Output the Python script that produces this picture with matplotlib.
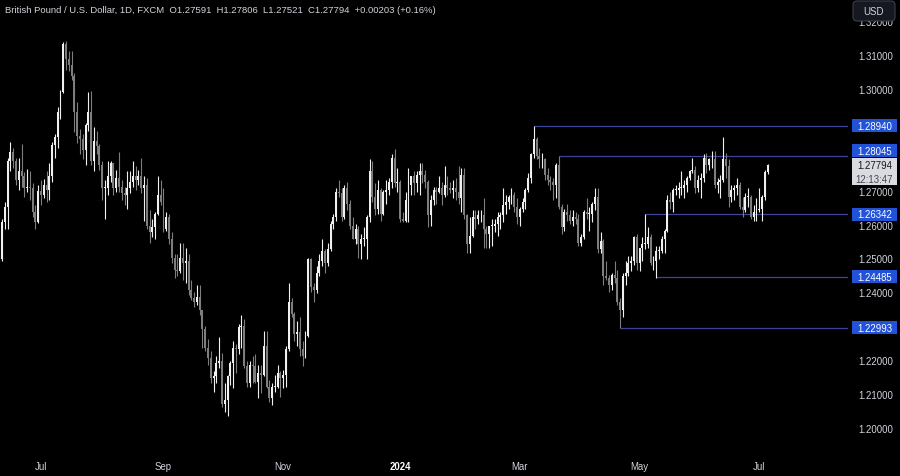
import numpy as np
import pandas as pd
import matplotlib
matplotlib.use("Agg")
import matplotlib.pyplot as plt
from matplotlib.patches import Rectangle, FancyBboxPatch
from matplotlib.transforms import IdentityTransform

# GBP/USD daily, FXCM, 12 Jun 2023 .. 4 Jul 2024
first_open = 1.2575
closes = [
    # Jun 2023
    1.2500, 1.2610, 1.2655, 1.2790, 1.2818, 1.2792, 1.2735, 1.2762, 1.2745, 1.2712, 1.2715, 1.2710, 1.2640, 1.2612, 1.2703,
    # Jul
    1.2690, 1.2720, 1.2705, 1.2746, 1.2838, 1.2860, 1.2935, 1.2995, 1.3135, 1.3090, 1.3075, 1.3040, 1.2935, 1.2865, 1.2855,
    1.2822, 1.2897, 1.2935, 1.2790, 1.2850, 1.2835,
    # Aug
    1.2780, 1.2710, 1.2710, 1.2745, 1.2785, 1.2710, 1.2740, 1.2715, 1.2695, 1.2690, 1.2710, 1.2730, 1.2745, 1.2735, 1.2745,
    1.2710, 1.2720, 1.2600, 1.2580, 1.2595, 1.2635, 1.2690, 1.2670,
    # Sep
    1.2590, 1.2625, 1.2560, 1.2505, 1.2470, 1.2465, 1.2505, 1.2490, 1.2495, 1.2410, 1.2385, 1.2375, 1.2390, 1.2350, 1.2295,
    1.2240, 1.2210, 1.2150, 1.2155, 1.2195, 1.2200,
    # Oct
    1.2075, 1.2085, 1.2155, 1.2195, 1.2240, 1.2235, 1.2300, 1.2305, 1.2185, 1.2135, 1.2190, 1.2185, 1.2140, 1.2165, 1.2160,
    1.2245, 1.2125, 1.2090, 1.2125, 1.2125, 1.2165, 1.2150,
    # Nov
    1.2160, 1.2235, 1.2375, 1.2340, 1.2280, 1.2285, 1.2235, 1.2215, 1.2275, 1.2500, 1.2420, 1.2410, 1.2460, 1.2495, 1.2525,
    1.2490, 1.2530, 1.2605, 1.2625, 1.2700, 1.2695, 1.2625,
    # Dec
    1.2710, 1.2665, 1.2600, 1.2560, 1.2590, 1.2545, 1.2560, 1.2560, 1.2625, 1.2760, 1.2685, 1.2650, 1.2705, 1.2635, 1.2700,
    1.2705, 1.2730, 1.2800, 1.2725, 1.2730,
    # Jan 2024
    1.2620, 1.2615, 1.2675, 1.2720, 1.2745, 1.2725, 1.2750, 1.2760, 1.2750, 1.2730, 1.2630, 1.2675, 1.2705, 1.2700, 1.2710,
    1.2690, 1.2720, 1.2710, 1.2705, 1.2710, 1.2700, 1.2680,
    # Feb
    1.2750, 1.2630, 1.2545, 1.2570, 1.2625, 1.2620, 1.2630, 1.2630, 1.2590, 1.2575, 1.2600, 1.2600, 1.2605, 1.2625, 1.2630,
    1.2660, 1.2670, 1.2685, 1.2690, 1.2655, 1.2625,
    # Mar
    1.2650, 1.2670, 1.2705, 1.2740, 1.2810, 1.2855, 1.2805, 1.2795, 1.2795, 1.2750, 1.2735, 1.2730, 1.2720, 1.2780, 1.2655,
    1.2595, 1.2640, 1.2630, 1.2615, 1.2625, 1.2620,
    # Apr
    1.2550, 1.2565, 1.2640, 1.2635, 1.2635, 1.2665, 1.2685, 1.2530, 1.2555, 1.2450, 1.2445, 1.2425, 1.2455, 1.2445, 1.2375,
    1.2350, 1.2450, 1.2460, 1.2490, 1.2495, 1.2565, 1.2490,
    # May
    1.2535, 1.2545, 1.2545, 1.2565, 1.2490, 1.2495, 1.2525, 1.2525, 1.2560, 1.2585, 1.2675, 1.2670, 1.2705, 1.2705, 1.2710,
    1.2710, 1.2720, 1.2740, 1.2760, 1.2765, 1.2710, 1.2735, 1.2740,
    # Jun
    1.2800, 1.2780, 1.2795, 1.2795, 1.2720, 1.2730, 1.2735, 1.2795, 1.2775, 1.2685, 1.2705, 1.2710, 1.2720, 1.2655, 1.2645,
    1.2685, 1.2685, 1.2625, 1.2640, 1.2645,
    # Jul
    1.2650, 1.2685, 1.27591, 1.27794,
]
highs = [
    1.2590, 1.2620, 1.2670, 1.2800, 1.2848, 1.2830, 1.2800, 1.2800, 1.2842, 1.2757, 1.2767, 1.2760, 1.2725, 1.2660, 1.2720,
    1.2734, 1.2737, 1.2760, 1.2785, 1.2848, 1.2870, 1.2950, 1.3000, 1.3142, 1.3144, 1.3115, 1.3115, 1.3050, 1.2965, 1.2885,
    1.2870, 1.2904, 1.2995, 1.2996, 1.2890, 1.2880,
    1.2840, 1.2790, 1.2735, 1.2790, 1.2790, 1.2785, 1.2765, 1.2818, 1.2735, 1.2715, 1.2760, 1.2760, 1.2790, 1.2775, 1.2765,
    1.2800, 1.2745, 1.2740, 1.2645, 1.2620, 1.2640, 1.2745, 1.2735,
    1.2710, 1.2640, 1.2635, 1.2580, 1.2515, 1.2515, 1.2550, 1.2548, 1.2535, 1.2515, 1.2440, 1.2405, 1.2425, 1.2425, 1.2350,
    1.2305, 1.2265, 1.2230, 1.2170, 1.2215, 1.2270,
    1.2225, 1.2135, 1.2160, 1.2200, 1.2260, 1.2250, 1.2310, 1.2337, 1.2325, 1.2200, 1.2200, 1.2215, 1.2220, 1.2190, 1.2190,
    1.2290, 1.2290, 1.2145, 1.2135, 1.2160, 1.2190, 1.2170,
    1.2175, 1.2245, 1.2430, 1.2385, 1.2345, 1.2320, 1.2330, 1.2260, 1.2290, 1.2505, 1.2505, 1.2430, 1.2480, 1.2515, 1.2560,
    1.2530, 1.2550, 1.2615, 1.2635, 1.2710, 1.2735, 1.2710,
    1.2720, 1.2730, 1.2675, 1.2625, 1.2605, 1.2600, 1.2575, 1.2595, 1.2630, 1.2795, 1.2790, 1.2725, 1.2735, 1.2710, 1.2705,
    1.2735, 1.2740, 1.2810, 1.2827, 1.2770,
    1.2735, 1.2640, 1.2700, 1.2770, 1.2745, 1.2760, 1.2760, 1.2785, 1.2785, 1.2765, 1.2735, 1.2690, 1.2715, 1.2715, 1.2745,
    1.2730, 1.2775, 1.2745, 1.2730, 1.2735, 1.2740, 1.2775,
    1.2770, 1.2770, 1.2635, 1.2625, 1.2645, 1.2645, 1.2645, 1.2645, 1.2680, 1.2600, 1.2600, 1.2620, 1.2620, 1.2640, 1.2640,
    1.2710, 1.2690, 1.2690, 1.2710, 1.2700, 1.2680,
    1.2655, 1.2680, 1.2710, 1.2755, 1.2815, 1.2894, 1.2860, 1.2830, 1.2815, 1.2800, 1.2770, 1.2745, 1.2740, 1.2785, 1.2804,
    1.2665, 1.2650, 1.2665, 1.2645, 1.2645, 1.2640,
    1.2635, 1.2575, 1.2645, 1.2680, 1.2655, 1.2670, 1.2710, 1.2710, 1.2580, 1.2560, 1.2495, 1.2455, 1.2460, 1.2495, 1.2470,
    1.2385, 1.2460, 1.2495, 1.2510, 1.2510, 1.2570, 1.2575,
    1.2535, 1.2565, 1.2634, 1.2595, 1.2575, 1.2510, 1.2540, 1.2540, 1.2570, 1.2590, 1.2690, 1.2700, 1.2710, 1.2720, 1.2730,
    1.2760, 1.2735, 1.2745, 1.2765, 1.2800, 1.2775, 1.2750, 1.2755,
    1.2810, 1.2815, 1.2800, 1.2820, 1.2820, 1.2740, 1.2750, 1.2860, 1.2815, 1.2795, 1.2720, 1.2720, 1.2740, 1.2730, 1.2685,
    1.2695, 1.2710, 1.2690, 1.2660, 1.2680,
    1.2710, 1.2690, 1.2765, 1.27806,
]
lows = [
    1.2490, 1.2495, 1.2590, 1.2590, 1.2760, 1.2770, 1.2720, 1.2705, 1.2715, 1.2685, 1.2700, 1.2675, 1.2625, 1.2590, 1.2607,
    1.2660, 1.2680, 1.2670, 1.2675, 1.2730, 1.2800, 1.2830, 1.2915, 1.2990, 1.3060, 1.3055, 1.3030, 1.2875, 1.2845, 1.2810,
    1.2797, 1.2780, 1.2880, 1.2780, 1.2760, 1.2810,
    1.2765, 1.2675, 1.2620, 1.2690, 1.2730, 1.2690, 1.2700, 1.2700, 1.2675, 1.2660, 1.2650, 1.2695, 1.2715, 1.2705, 1.2720,
    1.2695, 1.2615, 1.2590, 1.2550, 1.2565, 1.2560, 1.2630, 1.2660,
    1.2580, 1.2585, 1.2545, 1.2490, 1.2445, 1.2450, 1.2460, 1.2440, 1.2430, 1.2395, 1.2380, 1.2360, 1.2365, 1.2335, 1.2240,
    1.2230, 1.2190, 1.2135, 1.2110, 1.2135, 1.2180,
    1.2065, 1.2050, 1.2037, 1.2130, 1.2120, 1.2165, 1.2220, 1.2240, 1.2180, 1.2125, 1.2125, 1.2135, 1.2135, 1.2090, 1.2105,
    1.2155, 1.2120, 1.2080, 1.2070, 1.2110, 1.2120, 1.2095,
    1.2120, 1.2125, 1.2230, 1.2330, 1.2260, 1.2245, 1.2215, 1.2185, 1.2210, 1.2270, 1.2405, 1.2375, 1.2400, 1.2450, 1.2480,
    1.2460, 1.2480, 1.2525, 1.2590, 1.2615, 1.2685, 1.2615,
    1.2620, 1.2645, 1.2590, 1.2560, 1.2545, 1.2505, 1.2500, 1.2540, 1.2500, 1.2610, 1.2670, 1.2630, 1.2635, 1.2615, 1.2630,
    1.2665, 1.2690, 1.2710, 1.2715, 1.2700,
    1.2610, 1.2610, 1.2610, 1.2610, 1.2690, 1.2690, 1.2700, 1.2690, 1.2725, 1.2710, 1.2595, 1.2600, 1.2660, 1.2665, 1.2695,
    1.2660, 1.2685, 1.2690, 1.2695, 1.2680, 1.2675, 1.2665,
    1.2640, 1.2620, 1.2520, 1.2520, 1.2565, 1.2590, 1.2605, 1.2610, 1.2535, 1.2535, 1.2535, 1.2540, 1.2580, 1.2570, 1.2590,
    1.2610, 1.2635, 1.2650, 1.2665, 1.2640, 1.2605,
    1.2600, 1.2640, 1.2650, 1.2700, 1.2725, 1.2800, 1.2795, 1.2770, 1.2770, 1.2735, 1.2720, 1.2705, 1.2675, 1.2680, 1.2650,
    1.2575, 1.2585, 1.2615, 1.2605, 1.2600, 1.2605,
    1.2540, 1.2540, 1.2560, 1.2620, 1.2585, 1.2610, 1.2645, 1.2520, 1.2520, 1.2425, 1.2440, 1.2405, 1.2410, 1.2430, 1.2365,
    1.2299, 1.2330, 1.2425, 1.2450, 1.2465, 1.2485, 1.2470,
    1.2465, 1.2495, 1.2530, 1.2535, 1.2485, 1.2470, 1.2446, 1.2500, 1.2520, 1.2520, 1.2580, 1.2650, 1.2640, 1.2690, 1.2680,
    1.2690, 1.2680, 1.2700, 1.2735, 1.2755, 1.2695, 1.2700, 1.2680,
    1.2730, 1.2755, 1.2765, 1.2770, 1.2710, 1.2695, 1.2680, 1.2730, 1.2740, 1.2655, 1.2670, 1.2675, 1.2690, 1.2650, 1.2625,
    1.2640, 1.2655, 1.2620, 1.2613, 1.2615,
    1.2640, 1.2615, 1.2675, 1.27521,
]

dates = pd.bdate_range("2023-06-12", "2024-07-04")
dates = dates[~dates.isin(pd.to_datetime(["2023-12-25", "2024-01-01"]))]

# horizontal levels and the bar each one starts from
levels = [1.28940, 1.28045, 1.26342, 1.24485, 1.22993]
level_starts = ["2024-03-08", "2024-03-21", "2024-05-03", "2024-05-09", "2024-04-22"]

price_ticks = [1.32, 1.31, 1.30, 1.27, 1.26, 1.25, 1.24, 1.22, 1.21, 1.20]
month_ticks = ["2023-07", "2023-09", "2023-11", "2024-01", "2024-03", "2024-05", "2024-07"]
month_labels = ["Jul", "Sep", "Nov", "2024", "Mar", "May", "Jul"]

title = ("British Pound / U.S. Dollar, 1D, FXCM  O1.27591  H1.27806  "
         "L1.27521  C1.27794  +0.00203 (+0.16%)")
countdown = "12:13:47"

c = np.array(closes)
h = np.array(highs)
l = np.array(lows)
o = np.r_[first_open, c[:-1]]
n = len(c)
assert n == len(h) == len(l) == len(dates)
x = np.arange(n)

FONT = "Liberation Sans"
TXT = "#d1d4dc"
BG = "#000000"
UP = "#f0f0f0"
DOWN = "#7e7e7e"
LINE = "#3c4599"
BLUE = "#2152d8"

W, H = 900, 477
fig = plt.figure(figsize=(W / 100, H / 100), dpi=100, facecolor=BG)

ax_bottom_px = 452
px_per_cent = 33.9
ppx = 0.01 / px_per_cent
ytop = 1.20 + 430 * ppx
ybot = 1.20 - (ax_bottom_px - 430) * ppx

ax = fig.add_axes([0, (H - ax_bottom_px) / H, 848 / W, ax_bottom_px / H])
ax.set_facecolor(BG)
jul3 = int(np.where(dates == pd.Timestamp("2023-07-03"))[0][0])
bar_px = 2.784
ax.set_xlim(jul3 - 41 / bar_px, jul3 + (848 - 41) / bar_px)
ax.set_ylim(ybot, ytop)

up = c >= o
cols = np.where(up, UP, DOWN)
ax.vlines(x, np.minimum(l, np.minimum(o, c)), np.maximum(h, np.maximum(o, c)),
          colors=cols, linewidth=0.8, zorder=3)
ax.bar(x, np.maximum(np.abs(c - o), ppx * 0.9), bottom=np.minimum(o, c),
       width=0.7, color=cols, linewidth=0, zorder=4)

xr = ax.get_xlim()[1]
for lv, d in zip(levels, level_starts):
    i0 = int(np.where(dates == pd.Timestamp(d))[0][0])
    ax.hlines(lv, i0, xr, color=LINE, linewidth=0.9, zorder=2)

tick_idx = [int(np.argmax((dates.year == pd.Timestamp(m).year) & (dates.month == pd.Timestamp(m).month)))
            for m in month_ticks]
ax.set_xticks(tick_idx)
ax.set_xticklabels(month_labels, fontfamily=FONT)
ax.tick_params(axis="x", length=0, pad=7, colors=TXT, labelsize=6.9)
for t in ax.get_xticklabels():
    if t.get_text() == "2024":
        t.set_fontweight("bold")
        t.set_color("#ffffff")
ax.set_yticks([])
for s in ax.spines.values():
    s.set_visible(False)

# right price scale
axr = fig.add_axes([848 / W, (H - ax_bottom_px) / H, 52 / W, ax_bottom_px / H])
axr.set_facecolor(BG)
axr.set_xlim(0, 52)
axr.set_ylim(ybot, ytop)
axr.axis("off")

for p in price_ticks:
    axr.text(27.5, p, f"{p:.5f}", ha="center", va="center", color=TXT,
             fontsize=6.9, fontfamily=FONT)

last = c[-1]
cur_top = last + 7 * ppx
cur_h = 27 * ppx
box_h = 13 * ppx
for lv in levels:
    yc = lv
    if abs(yc - last) < box_h:
        yc = cur_top + box_h / 2 + 0.5 * ppx
    axr.add_patch(Rectangle((4, yc - box_h / 2), 45, box_h, facecolor=BLUE,
                            edgecolor="none", zorder=5))
    axr.text(26.5, yc, f"{lv:.5f}", ha="center", va="center", color="white",
             fontsize=6.9, fontfamily=FONT, zorder=6)

axr.add_patch(Rectangle((4, cur_top - cur_h), 45, cur_h, facecolor="#d9dbe0",
                        edgecolor="none", zorder=5))
axr.text(26.5, last, f"{last:.5f}", ha="center", va="center", color="#131722",
         fontsize=6.9, fontfamily=FONT, zorder=6)
axr.text(26.5, last - 14 * ppx, countdown, ha="center", va="center", color="#434651",
         fontsize=6.9, fontfamily=FONT, zorder=6)

# currency button
usd = FancyBboxPatch((853, H - 22), 42, 20, boxstyle="round,pad=0,rounding_size=4",
                     facecolor="#151820", edgecolor="#3a3e4a", linewidth=0.8,
                     transform=IdentityTransform(), zorder=10)
fig.add_artist(usd)
fig.text(874, H - 12, "USD", transform=IdentityTransform(), ha="center", va="center",
         color=TXT, fontsize=6.9, fontfamily=FONT, zorder=11)

fig.text(5, H - 11, title, transform=IdentityTransform(), ha="left", va="center",
         color=TXT, fontsize=6.8, fontfamily=FONT)

fig.savefig("out.png", dpi=100, facecolor=BG)
